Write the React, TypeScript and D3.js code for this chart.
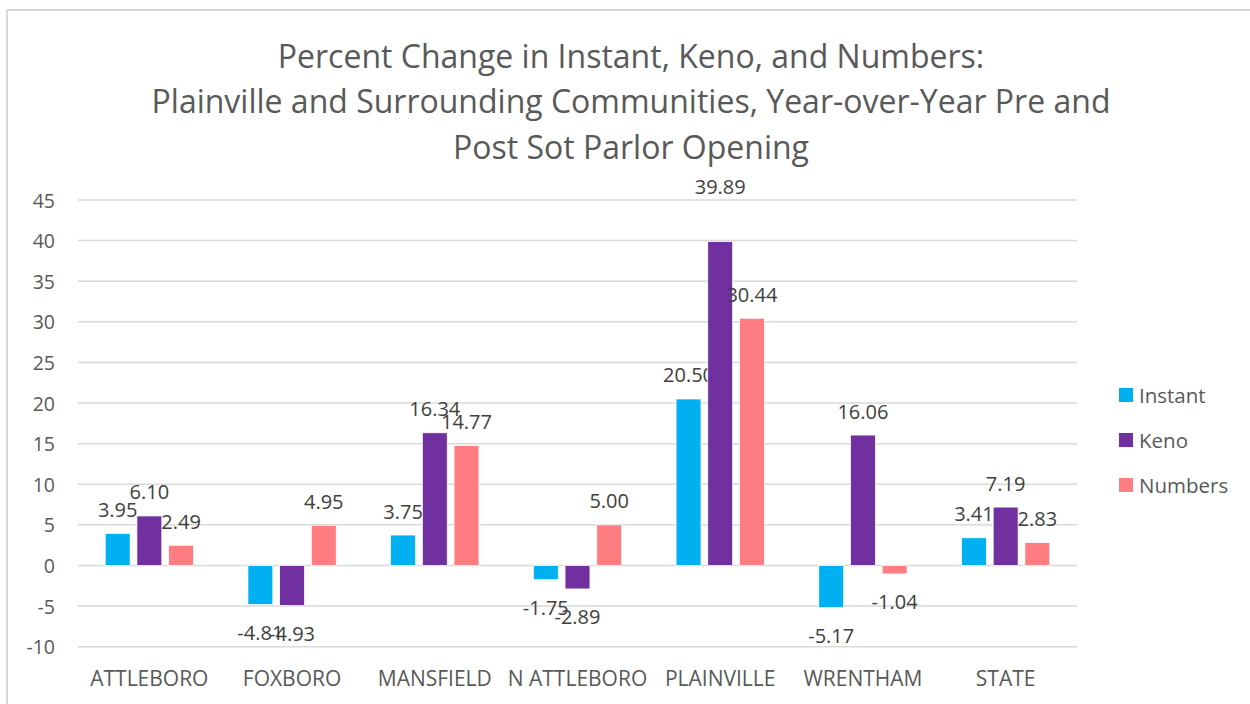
import React from "react";
import * as d3 from "d3";

const categories = ["ATTLEBORO", "FOXBORO", "MANSFIELD", "N ATTLEBORO", "PLAINVILLE", "WRENTHAM", "STATE"];
const seriesNames = ["Instant", "Keno", "Numbers"];
const instant = [3.95, -4.81, 3.75, -1.75, 20.5, -5.17, 3.41];
const keno = [6.1, -4.93, 16.34, -2.89, 39.89, 16.06, 7.19];
const numbers = [2.49, 4.95, 14.77, 5.0, 30.44, -1.04, 2.83];
const yTicks = [-10, -5, 0, 5, 10, 15, 20, 25, 30, 35, 40, 45];
const titleLines = [
  "Percent Change in Instant, Keno, and Numbers:",
  "Plainville and Surrounding Communities, Year-over-Year Pre and",
  "Post Sot Parlor Opening",
];

const colors = ["#00B0F0", "#7030A0", "#FF7C80"];
const FONT = "'Open Sans', sans-serif";

export default function App() {
  const W = 1250, H = 704;
  const left = 78, right = 1077, top = 200, bottom = 646.7;
  const y = d3.scaleLinear().domain([-10, 45]).range([bottom, top]);
  const x0 = d3.scaleBand<string>().domain(categories).range([left, right]).padding(0);
  const groupPad = 27.2;
  const x1 = d3
    .scaleBand<string>()
    .domain(seriesNames)
    .range([groupPad, x0.bandwidth() - groupPad])
    .paddingInner(0.214)
    .paddingOuter(0);
  const values = [instant, keno, numbers];
  const fmt = (v: number) => d3.format(".2f")(v).replace("\u2212", "-");
  // label offset tweaks (style only)
  const extraOffset: Record<string, number> = { "Keno-PLAINVILLE": 31 };

  return (
    <div style={{ position: "absolute", left: 0, top: 0 }}>
      <svg width={W} height={H} style={{ display: "block", background: "#fff" }} fontFamily={FONT}>
        <rect x={7} y={10} width={W + 20} height={H + 20} fill="#fff" stroke="#d9d9d9" strokeWidth={2} />
        {titleLines.map((t, i) => (
          <text key={i} x={631} y={55 + i * 45.5} textAnchor="middle" dominantBaseline="central" fontSize={32} fill="#595959">
            {t}
          </text>
        ))}
        {yTicks.map((t) => (
          <g key={t}>
            <line x1={left} x2={right} y1={y(t)} y2={y(t)} stroke="#d9d9d9" strokeWidth={1.5} />
            <text x={55} y={y(t)} textAnchor="end" dominantBaseline="central" fontSize={19.5} fill="#595959">
              {t}
            </text>
          </g>
        ))}
        {categories.map((c, ci) => (
          <g key={c} transform={`translate(${x0(c)},0)`}>
            {seriesNames.map((s, si) => {
              const v = values[si][ci];
              const bx = x1(s)!;
              const by = Math.min(y(v), y(0));
              const bh = Math.abs(y(v) - y(0));
              const cx = bx + x1.bandwidth() / 2;
              const off = extraOffset[`${s}-${c}`] || 0;
              const ly = v >= 0 ? y(v) - 24 - off : y(v) + 28 + off;
              return (
                <g key={s}>
                  <rect x={bx} y={by} width={x1.bandwidth()} height={bh} fill={colors[si]} stroke="#fff" strokeWidth={0.75} />
                  <text x={cx} y={ly} textAnchor="middle" dominantBaseline="central" fontSize={20} fill="#404040">
                    {fmt(v)}
                  </text>
                </g>
              );
            })}
            <text x={x0.bandwidth() / 2} y={678} textAnchor="middle" dominantBaseline="central" fontSize={21} fill="#595959">
              {c}
            </text>
          </g>
        ))}
        {seriesNames.map((s, i) => (
          <g key={s} transform={`translate(1119,${395 + i * 45})`}>
            <rect x={0} y={-7} width={14} height={14} fill={colors[i]} />
            <text x={20} y={0} dominantBaseline="central" fontSize={20.5} fill="#595959">
              {s}
            </text>
          </g>
        ))}
      </svg>
    </div>
  );
}
